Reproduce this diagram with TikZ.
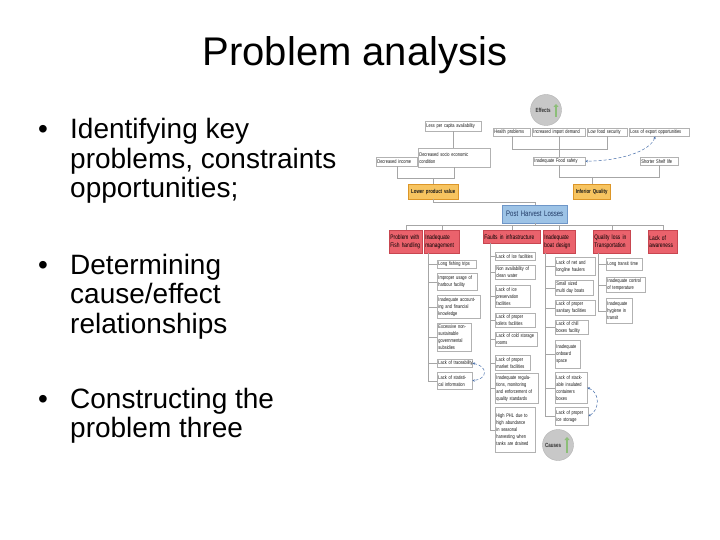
\documentclass[tikz,border=0pt]{standalone}
\usepackage{fontspec}
\setmainfont{Liberation Sans}
\newfontfamily\nf[FakeStretch=0.75]{Liberation Sans}
\usetikzlibrary{arrows.meta,shadows,calc}
\definecolor{redfill}{RGB}{234,98,108}
\definecolor{redline}{RGB}{200,70,80}
\definecolor{orfill}{RGB}{247,196,96}
\definecolor{orline}{RGB}{220,150,40}
\definecolor{blfill}{RGB}{157,195,230}
\definecolor{blline}{RGB}{110,150,200}
\definecolor{bltext}{RGB}{31,56,100}
\definecolor{dotblue}{RGB}{70,110,170}
\definecolor{circfill}{RGB}{200,200,200}
\definecolor{arrgreen}{RGB}{140,190,120}
\tikzset{
 sbox/.style={draw=gray!60, line width=0.4pt, fill=white, font=\nf\fontsize{5.3}{7}\selectfont, align=left, inner xsep=1.2pt, inner ysep=0.8pt, anchor=north west, text=black!90, drop shadow={shadow xshift=0.5pt, shadow yshift=-0.6pt, fill=gray!45}},
 rbox/.style={sbox, fill=redfill, draw=redline, font=\nf\fontsize{6.5}{7.5}\selectfont, text=black},
 obox/.style={sbox, fill=orfill, draw=orline, font=\nf\bfseries\fontsize{5.8}{6.5}\selectfont, align=center},
 bbox/.style={sbox, fill=blfill, draw=blline, font=\nf\fontsize{8}{9}\selectfont, text=bltext, align=center},
 conn/.style={draw=gray!70, line width=0.4pt},
 dblue/.style={dotblue, densely dashed, line width=0.5pt, {Stealth[length=2.5pt,width=2.5pt]}-{Stealth[length=2.5pt,width=2.5pt]}},
 gcirc/.style={circle, fill=circfill, draw=gray!60, line width=0.4pt, minimum size=31pt, inner sep=0pt},
 ctext/.style={font=\nf\bfseries\fontsize{6}{6.5}\selectfont, text=black!80},
 garrow/.style={arrgreen, line width=1.4pt, -{Triangle[length=3pt,width=5pt]}},
 title/.style={font=\fontsize{40}{48}\selectfont},
 btext/.style={font=\fontsize{28}{30}\selectfont, anchor=base west, inner sep=0pt}
}
\newcommand\mybox[7][sbox]{\pgfmathsetmacro\mytw{#5-#3-2.4}\node[#1, text width=\mytw pt, minimum height={#6pt-#4pt}] (#2) at (#3,#4) {#7};}
\begin{document}
\begin{tikzpicture}[x=1pt,y=-1pt]
\useasboundingbox (0,0) rectangle (720,540);
\fill[white] (0,0) rectangle (720,540);
% title and bullets
\node[title] (ttl) at (355,55) {Problem analysis};
\node[btext] (d1) at (38,139) {•};
\node[btext] (l1a) at (70,139) {Identifying key};
\node[btext] (l1b) at (70,168.5) {problems, constraints};
\node[btext] (l1c) at (70,198) {opportunities;};
\node[btext] (d2) at (38,274) {•};
\node[btext] (l2a) at (70,274) {Determining};
\node[btext] (l2b) at (70,303.5) {cause/effect};
\node[btext] (l2c) at (70,333) {relationships};
\node[btext] (d3) at (38,408) {•};
\node[btext] (l3a) at (70,408) {Constructing the};
\node[btext] (l3b) at (70,437.5) {problem three};
% effects
\node[gcirc] (eff) at (546,110) {};
\node[ctext] (efft) at (543,110) {Effects};
\coordinate (ea1) at (556,117);
\coordinate (ea2) at (556,104);
\draw[garrow] (ea1) -- (ea2);
\mybox{lpca}{425}{121.5}{481}{131}{Less per capita availability}
\mybox{hp}{493}{128}{530}{136}{Health problems}
\mybox{iid}{532}{128}{585}{136}{Increased import demand}
\mybox{lfs}{587}{128}{627}{136}{Low food security}
\mybox{leo}{629}{128}{689}{136}{Loss of export opportunities}
\mybox{dinc}{376}{157}{417}{166}{Decreased income}
\mybox{dsec}{418}{148}{490}{167}{Decreased socio economic\\condition}
\mybox{ifs}{533}{157}{585}{165}{Inadequate Food safety}
\mybox{ssl}{640}{157}{678}{165}{Shorter Shelf life}
\mybox[obox]{lpv}{408}{184}{458}{199}{Lower product value}
\mybox[obox]{iq}{573}{184}{610}{199}{Inferior Quality}
\mybox[bbox]{phl}{502}{205}{567}{223}{Post Harvest Losses}
% effect connectors
\coordinate (e1) at (0,149);
\coordinate (e2) at (0,177);
\coordinate (e3) at (0,178);
\coordinate (e4) at (0,202);
\draw[conn] (hp.south) -- (hp.south |- e1) -- (lfs.south |- e1) -- (lfs.south);
\draw[conn] (iid.south) -- (iid.south |- ifs.north);
\draw[conn] (ifs.south) -- (ifs.south |- e2) -- (ssl.south |- e2) -- (ssl.south);
\draw[conn] (iq.north |- e2) -- (iq.north);
\draw[conn] (lpca.south) -- (lpca.south |- dsec.north);
\draw[conn] (dinc.south) -- (dinc.south |- e3) -- (dsec.south |- e3) -- (dsec.south);
\draw[conn] (lpv.north |- e3) -- (lpv.north);
\draw[conn] (lpv.south) -- (lpv.south |- e4) -- (phl.north |- e4) -- (phl.north);
\draw[dblue] ([xshift=-4pt]leo.south) .. controls (650,152) and (618,161) .. (ifs.east);
% problem categories
\mybox[rbox]{pfh}{389}{230}{422}{253}{Problem with\\Fish handling}
\mybox[rbox]{im}{424}{230}{459}{253}{Inadequate\\management}
\mybox[rbox]{fi}{483}{230}{540}{243}{Faults in infrastructure}
\mybox[rbox]{ibd}{543}{230}{575}{253}{Inadequate\\boat design}
\mybox[rbox]{qlt}{593}{230}{630}{253}{Quality loss in\\Transportation}
\mybox[rbox]{loa}{648}{230}{677}{253}{Lack of\\awareness}
\coordinate (busy) at (0,225.5);
\draw[conn] (phl.south) -- (phl.south |- busy);
\draw[conn] (pfh.north) -- (pfh.north |- busy) -- (loa.north |- busy) -- (loa.north);
\foreach \n in {im,fi,ibd,qlt} \draw[conn] (\n.north) -- (\n.north |- busy);
% management children
\mybox{lft}{437}{260}{476}{268}{Long fishing trips}
\mybox{iuh}{437}{273}{477}{290}{Improper usage of\\harbour facility}
\mybox{iaf}{437}{295}{480}{318}{Inadequate account-\\ing and financial\\knowledge}
\mybox{ens}{437}{323}{471}{351}{Excessive non-\\sustainable\\governmental\\subsidies}
\mybox{lt}{437}{359}{472}{367}{\mbox{Lack of traceability}}
\mybox{lsi}{437}{372}{472}{389}{Lack of statisti-\\cal information}
\coordinate (mv) at (428,0);
\draw[conn] (mv |- im.south) -- (mv |- lsi.west);
\foreach \c in {lft,iuh,iaf,ens,lt,lsi} \draw[conn] (mv |- \c.west) -- (\c.west);
\draw[dblue] (lt.east) .. controls (488,366) and (488,379) .. (lsi.east);
% infrastructure children
\mybox{lif}{495}{252}{535}{260}{Lack of Ice facilities}
\mybox{nac}{495}{265}{535}{279}{Non availability of\\clean water}
\mybox{lip}{495}{285}{530}{307}{Lack of ice\\preservation\\facilities}
\mybox{lpt}{495}{313}{535}{327}{Lack of proper\\toilets facilities}
\mybox{lcs}{495}{332}{537}{346}{Lack of cold storage\\rooms}
\mybox{lpm}{495}{355}{530}{370}{Lack of proper\\market facilities}
\mybox{irm}{495}{373}{538}{403}{Inadequate regula-\\tions, monitoring\\and enforcement of\\quality standards}
\mybox{hph}{495}{407}{535}{452}{High PHL due to\\high abundance\\in seasonal\\harvesting when\\tanks are drained}
\coordinate (fv) at (490,0);
\draw[conn] (fv |- fi.south) -- (fv |- hph.west);
\foreach \c in {lif,nac,lip,lpt,lcs,lpm,irm,hph} \draw[conn] (fv |- \c.west) -- (\c.west);
% boat design children
\mybox{lnl}{555}{257}{595}{275}{Lack of net and\\longline haulers}
\mybox{ssm}{555}{280}{593}{295}{Small sized\\multi day boats}
\mybox{lps}{555}{300}{595}{315}{Lack of proper\\sanitary facilities}
\mybox{lcf}{555}{320}{588}{334}{Lack of chill\\boxes facility}
\mybox{iob}{555}{340}{580}{368}{Inadequate\\onboard\\space}
\mybox{lsc}{555}{372}{587}{403}{Lack of stack-\\able insulated\\containers\\boxes}
\mybox{lpis}{555}{407}{588}{425}{Lack of proper\\ice storage}
\coordinate (bv) at (545,0);
\draw[conn] (bv |- ibd.south) -- (bv |- lpis.west);
\foreach \c in {lnl,ssm,lps,lcf,iob,lsc,lpis} \draw[conn] (bv |- \c.west) -- (\c.west);
\draw[dblue] (lsc.east) .. controls (600,392) and (600,410) .. (lpis.east);
% transportation children
\mybox{ltt}{606}{258}{642}{270}{Long transit time}
\mybox{ict}{606}{277}{645}{292}{Inadequate control\\of temperature}
\mybox{iht}{606}{298}{632}{323}{Inadequate\\hygiene in\\transit}
\coordinate (qv) at (598,0);
\draw[conn] (qv |- qlt.south) -- (qv |- iht.west);
\foreach \c in {ltt,ict,iht} \draw[conn] (qv |- \c.west) -- (\c.west);
% causes
\node[gcirc] (cau) at (558,445) {};
\node[ctext] (caut) at (553,445) {Causes};
\coordinate (ca1) at (567,453);
\coordinate (ca2) at (567,437);
\draw[garrow] (ca1) -- (ca2);
\end{tikzpicture}
\end{document}
